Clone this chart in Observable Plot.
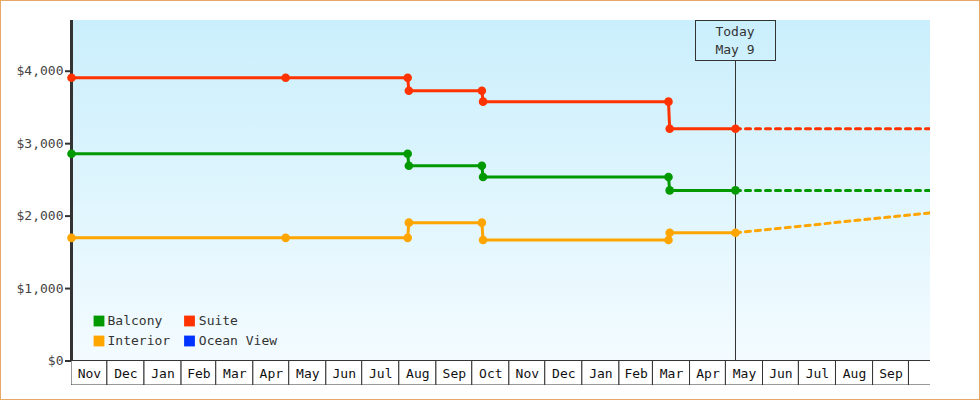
<!DOCTYPE html>
<html><head><meta charset="utf-8">
<script src="https://cdn.jsdelivr.net/npm/d3@7"></script>
<script src="https://cdn.jsdelivr.net/npm/@observablehq/plot@0.6"></script>
<style>
html,body{margin:0;padding:0;background:#fff;}
#chart svg{display:block;outline:1px solid #e8a865;outline-offset:-1px;}
</style></head><body><div id="chart"></div>
<script>
// ---- data ----
const seriesNames = ["Balcony", "Suite", "Interior", "Ocean View"];
const seriesColors = ["#009900", "#ff3300", "#ffa500", "#0033ff"];

const suiteDates = ["2023-11-01","2024-04-28","2024-08-08","2024-08-09","2024-10-09","2024-10-10","2025-03-14","2025-03-15","2025-05-09"];
const suitePrices = [3910, 3910, 3910, 3730, 3730, 3580, 3580, 3205, 3205];

const balconyDates = ["2023-11-01","2024-08-08","2024-08-09","2024-10-09","2024-10-10","2025-03-14","2025-03-15","2025-05-09"];
const balconyPrices = [2860, 2860, 2695, 2695, 2540, 2540, 2355, 2355];

const interiorDates = ["2023-11-01","2024-04-28","2024-08-08","2024-08-09","2024-10-09","2024-10-10","2025-03-14","2025-03-15","2025-05-09"];
const interiorPrices = [1700, 1700, 1700, 1910, 1910, 1670, 1670, 1770, 1770];

const forecastDates = ["2025-05-09", "2025-10-19"];
const suiteForecast = [3205, 3205];
const balconyForecast = [2355, 2355];
const interiorForecast = [1770, 2045];

const monthLabels = ["Nov","Dec","Jan","Feb","Mar","Apr","May","Jun","Jul","Aug","Sep","Oct",
                     "Nov","Dec","Jan","Feb","Mar","Apr","May","Jun","Jul","Aug","Sep","Oct"];
const yTicks = [0, 1000, 2000, 3000, 4000];
const todayDate = "2025-05-09";
const todayLabel = ["Today", "May 9"];
const xStart = "2023-11-01", xEnd = "2025-10-19";
const yMin = -338, yMax = 4700;

// ---- build ----
const parse = d3.utcParse("%Y-%m-%d");
const xDomain = [parse(xStart), parse(xEnd)];
const today = parse(todayDate);
const colorOf = Object.fromEntries(seriesNames.map((n, i) => [n, seriesColors[i]]));
const rows = (dates, prices) => dates.map((d, i) => ({date: parse(d), price: prices[i]}));

const series = [
  {name: "Suite", hist: rows(suiteDates, suitePrices), fc: rows(forecastDates, suiteForecast)},
  {name: "Balcony", hist: rows(balconyDates, balconyPrices), fc: rows(forecastDates, balconyForecast)},
  {name: "Interior", hist: rows(interiorDates, interiorPrices), fc: rows(forecastDates, interiorForecast)}
];

const monthStarts = d3.utcMonth.range(xDomain[0], d3.utcMonth.ceil(xDomain[1]));
const cells = monthStarts.map((d, i) => ({start: d, end: d3.utcMonth.offset(d, 1), label: monthLabels[i]}));

const FONT = "DejaVu Sans Mono";

const defsMark = () => {
  const defs = d3.create("svg:defs");
  const g = defs.append("linearGradient").attr("id", "bg")
    .attr("gradientUnits", "userSpaceOnUse")
    .attr("x1", 0).attr("y1", 20).attr("x2", 0).attr("y2", 360);
  g.append("stop").attr("offset", "0%").attr("stop-color", "#caeffc");
  g.append("stop").attr("offset", "100%").attr("stop-color", "#f3fbff");
  return defs.node();
};

const todayBox = (index, scales, values, dims) => {
  const x = scales.x(today);
  const top = dims.marginTop;
  const g = d3.create("svg:g").attr("font-family", FONT).attr("font-size", 13);
  g.append("rect").attr("x", Math.round(x) - 40 + 0.5).attr("y", top + 0.5)
    .attr("width", 80).attr("height", 40).attr("fill", "url(#bg)").attr("stroke", "#333");
  todayLabel.forEach((t, i) => {
    g.append("text").attr("x", x).attr("y", top + 16 + i * 17.5)
      .attr("text-anchor", "middle").attr("fill", "#333").text(t);
  });
  return g.node();
};

const marks = [
  defsMark,
  Plot.rect([0], {x1: () => xDomain[0], x2: () => xDomain[1], y1: () => 0, y2: () => yMax, fill: "url(#bg)"}),
  Plot.rect(cells, {x1: "start", x2: "end", y1: () => 0, y2: () => yMin, fill: "white", stroke: "#333", strokeWidth: 1, clip: true}),
  Plot.text(cells.filter(c => c.end <= xDomain[1]), {
    x: c => new Date((+c.start + +c.end) / 2), text: "label",
    frameAnchor: "bottom", lineAnchor: "middle", dy: -12, fill: "#111"
  }),
  Plot.ruleX([0], {x: () => xDomain[0], y1: () => 0, y2: () => yMax, stroke: "#333", strokeWidth: 3}),
  Plot.axisY({
    ticks: yTicks, tickSize: 6, tickPadding: 2, stroke: "#333", strokeWidth: 2, fill: "#444",
    tickFormat: d => "$" + d3.format(",")(d), fontSize: 13, label: null
  }),
  Plot.ruleX([today], {y1: () => 0, y2: () => yMax, stroke: "#333", strokeWidth: 1})
];

for (const s of series) {
  const c = colorOf[s.name];
  marks.push(Plot.line(s.fc, {x: "date", y: "price", stroke: c, strokeWidth: 3, strokeDasharray: "5,5", clip: true}));
  marks.push(Plot.line(s.hist, {x: "date", y: "price", stroke: c, strokeWidth: 3}));
}
for (const s of series) {
  marks.push(Plot.dot(s.hist, {x: "date", y: "price", fill: colorOf[s.name], r: 4.3}));
}
marks.push(todayBox);

// legend
seriesNames.forEach((name, i) => {
  const col = i % 2, row = Math.floor(i / 2);
  marks.push(Plot.dot([0], {frameAnchor: "top-left", dx: 27.5 + col * 90.5, dy: 300.5 + row * 20,
    symbol: "square", r: 6.1, fill: seriesColors[i]}));
  marks.push(Plot.text([0], {frameAnchor: "top-left", dx: 36 + col * 91.3, dy: 300.5 + row * 20,
    text: () => name, textAnchor: "start", lineAnchor: "middle", fill: "#333"}));
});

const chart = Plot.plot({
  width: 980, height: 400,
  marginLeft: 71, marginRight: 50, marginTop: 20, marginBottom: 15,
  x: {type: "utc", domain: xDomain, axis: null},
  y: {domain: [yMin, yMax], axis: null},
  style: {fontFamily: FONT, fontSize: "13px", background: "white", color: "#333"},
  marks
});
document.getElementById("chart").append(chart);
</script></body></html>
